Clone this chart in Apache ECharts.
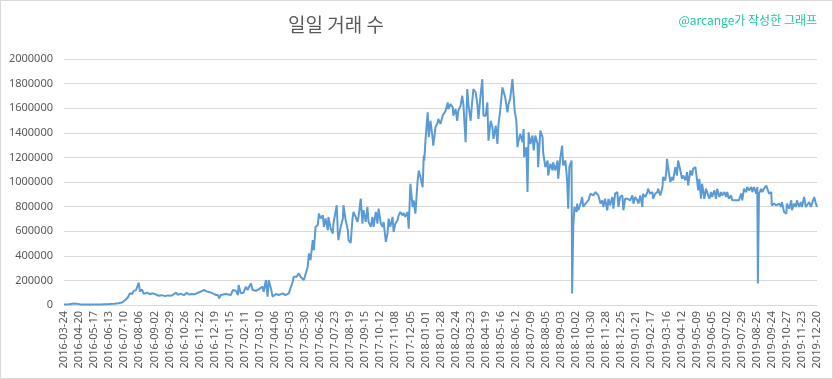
<!DOCTYPE html>
<html>
<head>
<meta charset="utf-8">
<script src="https://cdn.jsdelivr.net/npm/echarts@6/dist/echarts.min.js"></script>
<style>
html,body{margin:0;padding:0;background:#fff;}
#chart{width:831px;height:377px;border:1px solid #d9d9d9;}
</style>
</head>
<body>
<div id="chart"></div>
<script>
// Tick labels (one every 27 rows)
const tickLabels = ["2016-03-24","2016-04-20","2016-05-17","2016-06-13","2016-07-10","2016-08-06","2016-09-02","2016-09-29","2016-10-26","2016-11-22","2016-12-19",
"2017-01-15","2017-02-11","2017-03-10","2017-04-06","2017-05-03","2017-05-30","2017-06-26","2017-07-23","2017-08-19","2017-09-15","2017-10-12","2017-11-08","2017-12-05",
"2018-01-01","2018-01-28","2018-02-24","2018-03-23","2018-04-19","2018-05-16","2018-06-12","2018-07-09","2018-08-05","2018-09-03","2018-10-02","2018-10-30","2018-11-28","2018-12-25",
"2019-01-21","2019-02-17","2019-03-16","2019-04-12","2019-05-09","2019-06-05","2019-07-02","2019-07-29","2019-08-25","2019-09-24","2019-10-27","2019-11-23","2019-12-20"];
const rowsPerTick = 27;

// Row index (day row in the source table) of each sampled reading
const rowIndex = [0,9,18,23,30,45,63,81,90,98,104,107,111,115,118,122,125,129,131,132,134,136,140,143,149,154,159,165,170,175,181,186,192,197,201,204,209,215,220,224,229,235,240,245,251,256,261,267,272,
276,278,281,290,299,303,308,312,313,317,322,326,329,335,338,344,349,356,358,362,365,367,371,374,380,385,392,397,403,406,410,412,417,421,424,430,433,437,439,442,446,448,451,455,457,460,464,466,469,473,474,478,482,483,489,491,492,496,500,501,505,509,510,514,517,519,523,526,528,532,535,537,541,544,546,550,
553,555,559,562,564,568,571,573,577,580,582,585,589,591,594,598,600,603,607,609,612,616,618,621,625,627,630,634,636,639,643,645,646,648,652,654,657,661,662,666,670,671,675,679,680,684,688,689,693,697,698,702,705,707,711,714,716,720,723,725,729,732,734,738,741,743,747,750,752,756,759,761,765,768,770,774,777,779,782,786,788,791,795,797,800,804,
808,811,813,815,818,822,824,825,829,831,833,836,840,842,845,849,850,854,858,859,863,867,868,872,876,877,881,885,886,890,893,895,899,902,904,906,910,911,913,915,919,920,922,926,929,931,935,938,940,944,947,949,953,956,958,962,965,967,970,974,976,979,983,985,988,992,994,997,1001,1003,1006,1010,1012,1015,1019,1021,1024,1028,1030,1033,1037,1038,1042,1046,1047,1051,1055,1056,1060,1064,1065,1069,1073,1074,1078,1080,1081,1083,1087,
1090,1092,1096,1099,1101,1105,1108,1110,1114,1117,1119,1123,1126,1128,1132,1135,1137,1139,1142,1144,1148,1151,1153,1157,1160,1162,1166,1169,1171,1175,1178,1180,1184,1187,1189,1192,1196,1198,1201,1205,1207,1210,1214,1216,1219,1223,1225,1228,1232,1234,1237,1241,1243,1244,1246,1250,1252,1255,1259,1261,1264,1268,1269,1273,1277,1278,1282,1286,1287,1291,1295,1296,1300,1304,1305,1309,1312,1314,1318,1321,1323,1327,1330,1332,1336,1339,1341,1345,1348,1350];

// Daily transactions, in thousands
const dailyTxK = [5,6,12,10,5,4,5,8,10,15,20,30,45,65,95,90,115,120,105,130,181,110,125,90,100,88,95,85,75,80,72,78,75,88,100,82,92,80,100,85,90,88,100,108,122,110,105,95,82,
81,54,81,89,81,122,116,81,162,95,100,149,122,176,122,116,127,149,108,203,68,203,135,68,89,81,95,81,95,89,189,230,230,257,230,203,216,311,419,365,527,446,635,650,743,703,730,635,703,608,716,622,581,662,811,581,527,635,703,811,689,608,527,505,689,757,716,676,716,865,662,770,676,797,676,635,
716,635,756,662,783,662,635,675,513,581,702,635,716,594,662,689,729,756,729,748,716,756,621,985,797,850,743,1012,1093,1040,958,1215,1175,1336,1566,1364,1498,1350,1296,1445,1485,1512,1472,1539,1552,1580,1647,1593,1634,1607,1539,1593,1498,1580,1620,1701,1634,1323,1755,1634,1498,1661,1755,1728,1634,1512,1715,1836,1539,1539,1647,1336,1498,1445,1350,1458,1310,1472,1580,1769,1769,1688,1566,1634,1680,1836,
1580,1499,1283,1336,1391,1323,1431,1202,1283,918,1404,1310,1377,1256,1377,1310,1121,1418,1364,1242,1121,1175,1053,1148,1094,1161,1094,1175,1026,1202,1296,1134,1175,1013,783,1121,1175,94,635,797,756,824,770,824,878,797,824,837,851,905,918,891,918,932,891,824,851,797,864,770,864,810,878,783,905,918,797,878,891,770,864,864,878,851,891,824,878,851,824,891,797,905,878,918,945,905,918,864,905,918,945,891,959,1040,1013,1094,1188,1121,999,
1040,1013,1121,1053,1175,1094,1026,1053,1013,1080,972,1094,1053,1107,1121,1013,932,1026,864,986,864,945,918,864,918,878,932,864,945,878,918,891,918,878,918,864,891,851,864,851,837,851,905,851,945,918,959,932,959,918,959,905,959,175,905,945,918,945,972,945,905,918,810,824,810,797,824,797,837,756,742,824,783,851,770,824,797,851,797,837,797,878,797,783,837,797,824,878,824,797];

const yTicks = {min: 0, max: 2000000, step: 200000};

const seriesData = rowIndex.map((r, i) => [r, dailyTxK[i] * 1000]);

const chart = echarts.init(document.getElementById('chart'), null, {renderer: 'canvas'});
chart.setOption({
  animation: false,
  backgroundColor: '#ffffff',
  title: [{
    text: '일일 거래 수',
    left: 330, top: 9, textAlign: 'center',
    textStyle: {fontFamily: 'Noto Sans CJK KR', fontSize: 19, fontWeight: 'normal', color: '#595959'}
  }, {
    text: '@arcange가 작성한 그래프',
    right: 10, top: 8,
    textStyle: {fontFamily: 'Noto Sans CJK KR', fontSize: 12, fontWeight: 'normal', color: '#1fc7a0'}
  }],
  grid: {left: 63, right: 15, top: 58, bottom: 73, containLabel: false},
  xAxis: {
    type: 'value',
    min: 0, max: (tickLabels.length - 1) * rowsPerTick, interval: rowsPerTick,
    axisLine: {show: true, lineStyle: {color: '#d9d9d9', width: 1}},
    axisTick: {show: false},
    splitLine: {show: false},
    axisLabel: {
      rotate: 90, margin: 6, color: '#595959', fontSize: 11, fontFamily: 'Noto Sans',
      showMinLabel: true, showMaxLabel: true,
      formatter: v => tickLabels[Math.round(v / rowsPerTick)] || ''
    }
  },
  yAxis: {
    type: 'value', min: yTicks.min, max: yTicks.max, interval: yTicks.step,
    axisLine: {show: false}, axisTick: {show: false},
    splitLine: {lineStyle: {color: '#d9d9d9', width: 1}},
    axisLabel: {margin: 11, color: '#595959', fontSize: 11, fontFamily: 'Noto Sans',
      formatter: v => String(v)}
  },
  series: [{
    type: 'line', data: seriesData, showSymbol: false, symbol: 'none',
    lineStyle: {color: '#5b9bd5', width: 2}, itemStyle: {color: '#5b9bd5'}
  }]
});
</script>
</body>
</html>
